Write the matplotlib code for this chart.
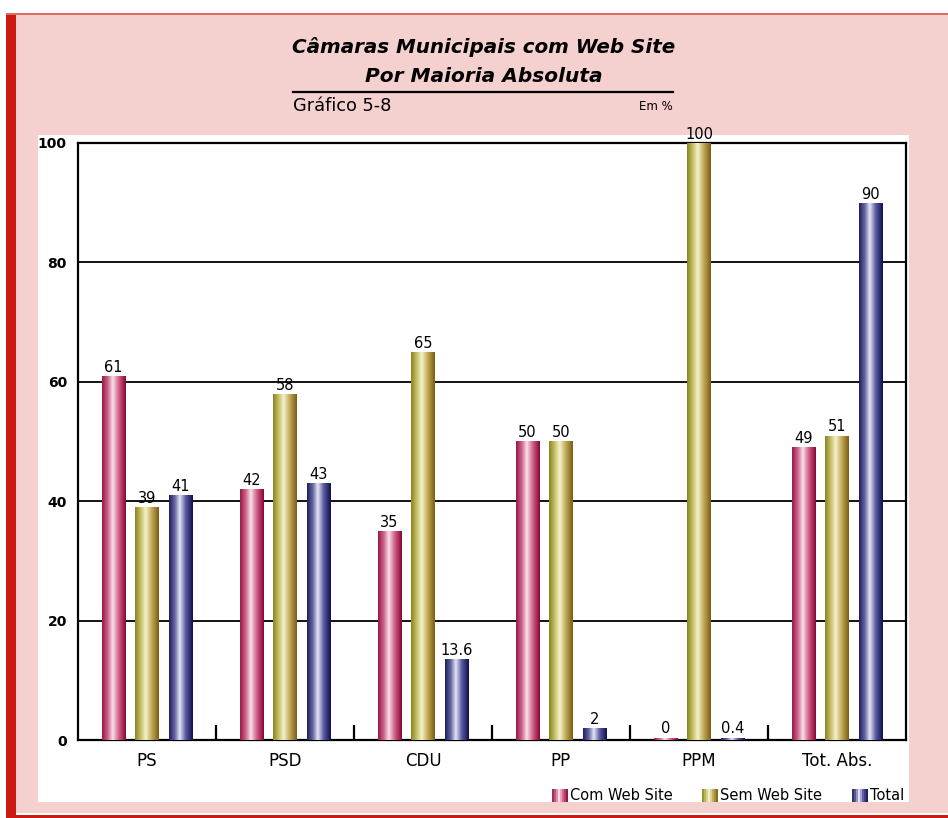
import numpy as np
import matplotlib
matplotlib.use('Agg')
import matplotlib.pyplot as plt
from matplotlib.colors import LinearSegmentedColormap
from matplotlib.patches import Rectangle
from matplotlib.lines import Line2D
from matplotlib.legend_handler import HandlerBase

# data
categories = ['PS', 'PSD', 'CDU', 'PP', 'PPM', 'Tot. Abs.']
com_web = [61, 42, 35, 50, 0, 49]
sem_web = [39, 58, 65, 50, 100, 51]
total = [41, 43, 13.6, 2, 0.4, 90]
series_names = ['Com Web Site', 'Sem Web Site', 'Total']
y_ticks = [0, 20, 40, 60, 80, 100]

W, H = 948, 818


def fx(px):
    return px / W


def fy(py):
    return 1 - py / H


# cylinder-like shading for each series
cmaps = [
    LinearSegmentedColormap.from_list('com', [(0, '#9a1848'), (0.25, '#d06890'), (0.45, '#f6e2ea'),
                                              (0.7, '#d4608a'), (1, '#860634')]),
    LinearSegmentedColormap.from_list('sem', [(0, '#8a8424'), (0.25, '#cbc46a'), (0.45, '#f4f2d0'),
                                              (0.7, '#c2aa56'), (1, '#7a5e14')]),
    LinearSegmentedColormap.from_list('tot', [(0, '#1e1e5c'), (0.25, '#6a6aa8'), (0.45, '#e6e6f4'),
                                              (0.7, '#5a5aa4'), (1, '#10104c')]),
]


class StripeHandler(HandlerBase):
    def __init__(self, cmap):
        super().__init__()
        self.cmap = cmap

    def create_artists(self, legend, orig_handle, xdescent, ydescent, width, height, fontsize, trans):
        n = 8
        arts = []
        for i in range(n):
            r = Rectangle((-xdescent + i * width / n, -ydescent), width / n + 0.2, height,
                          facecolor=self.cmap((i + 0.5) / n), edgecolor='none', transform=trans)
            arts.append(r)
        return arts


fig = plt.figure(figsize=(W / 100, H / 100), dpi=100, facecolor='white')

# frame and backgrounds
fig.patches.append(Rectangle((fx(16), fy(813)), fx(948) - fx(16), fy(15) - fy(813),
                             transform=fig.transFigure, facecolor='#f4d0cf', edgecolor='none', zorder=-3))
fig.patches.append(Rectangle((fx(6), fy(818)), fx(10), fy(13) - fy(818),
                             transform=fig.transFigure, facecolor='#cc1912', edgecolor='none', zorder=-2))
fig.patches.append(Rectangle((fx(6), fy(15)), 1, fy(13) - fy(15),
                             transform=fig.transFigure, facecolor='#e06a66', edgecolor='none', zorder=-2))
fig.patches.append(Rectangle((fx(6), fy(818)), 1, fy(815) - fy(818),
                             transform=fig.transFigure, facecolor='#cc1912', edgecolor='none', zorder=-2))
fig.patches.append(Rectangle((fx(38), fy(802)), fx(909) - fx(38), fy(135) - fy(802),
                             transform=fig.transFigure, facecolor='white', edgecolor='none', zorder=-2))

# title block
fig.text(fx(484), fy(47), 'Câmaras Municipais com Web Site', ha='center', va='center',
         fontsize=14.3, fontweight='bold', style='italic')
fig.text(fx(484), fy(77), 'Por Maioria Absoluta', ha='center', va='center',
         fontsize=14.5, fontweight='bold', style='italic')
fig.lines.append(Line2D([fx(293), fx(673)], [fy(92), fy(92)], transform=fig.transFigure,
                        color='black', lw=1.6))
fig.text(fx(293), fy(106), 'Gráfico 5-8', ha='left', va='center', fontsize=12.8)
fig.text(fx(673), fy(107), 'Em %', ha='right', va='center', fontsize=8.5)

ax = fig.add_axes([fx(78), fy(740), fx(906) - fx(78), fy(143) - fy(740)])
ax.set_zorder(5)
ax.patch.set_alpha(0)

x = np.arange(len(categories))
width = 0.172
step = 0.243
all_series = [com_web, sem_web, total]

for k, vals in enumerate(all_series):
    xs = x + (k - 1) * step
    shown = np.maximum(vals, 0.4)
    bars = ax.bar(xs, shown, width, color='none', edgecolor='none', zorder=3)
    for b, xv, hv, v in zip(bars, xs, shown, vals):
        grad = np.linspace(0, 1, 64).reshape(1, -1)
        im = ax.imshow(grad, cmap=cmaps[k], extent=(xv - width / 2, xv + width / 2, 0, hv),
                       aspect='auto', zorder=3, interpolation='bilinear')
        im.set_clip_path(b)
        ax.text(xv, hv + 0.2, f'{v:g}', ha='center', va='bottom', fontsize=10.5, zorder=4)

ax.set_xlim(-0.5, len(categories) - 0.5)
ax.set_ylim(0, 100)
ax.set_aspect('auto')

ax.set_yticks(y_ticks)
ax.set_yticklabels([str(t) for t in y_ticks], fontsize=10, fontweight='black')
ax.tick_params(axis='y', length=0, pad=8)
ax.set_xticks(x)
ax.set_xticklabels(categories, fontsize=12)
ax.tick_params(axis='x', which='major', length=0, pad=9)
ax.set_xticks(x[:-1] + 0.5, minor=True)
ax.tick_params(axis='x', which='minor', direction='in', length=11, width=1.6, color='black')

ax.set_axisbelow(True)
ax.yaxis.grid(True, color='black', lw=1.3)
for s in ax.spines.values():
    s.set_linewidth(1.6)
    s.set_color('black')

proxies = [Rectangle((0, 0), 1, 1) for _ in series_names]
fig.legend(proxies, series_names, handler_map={p: StripeHandler(c) for p, c in zip(proxies, cmaps)},
           loc='center right', bbox_to_anchor=(fx(904), fy(796)), ncol=3, frameon=False,
           fontsize=10.5, handlelength=1.1, handleheight=0.9, handletextpad=0.15,
           columnspacing=2.0, borderpad=0, borderaxespad=0)

fig.savefig('out.png', dpi=100, facecolor='white')
